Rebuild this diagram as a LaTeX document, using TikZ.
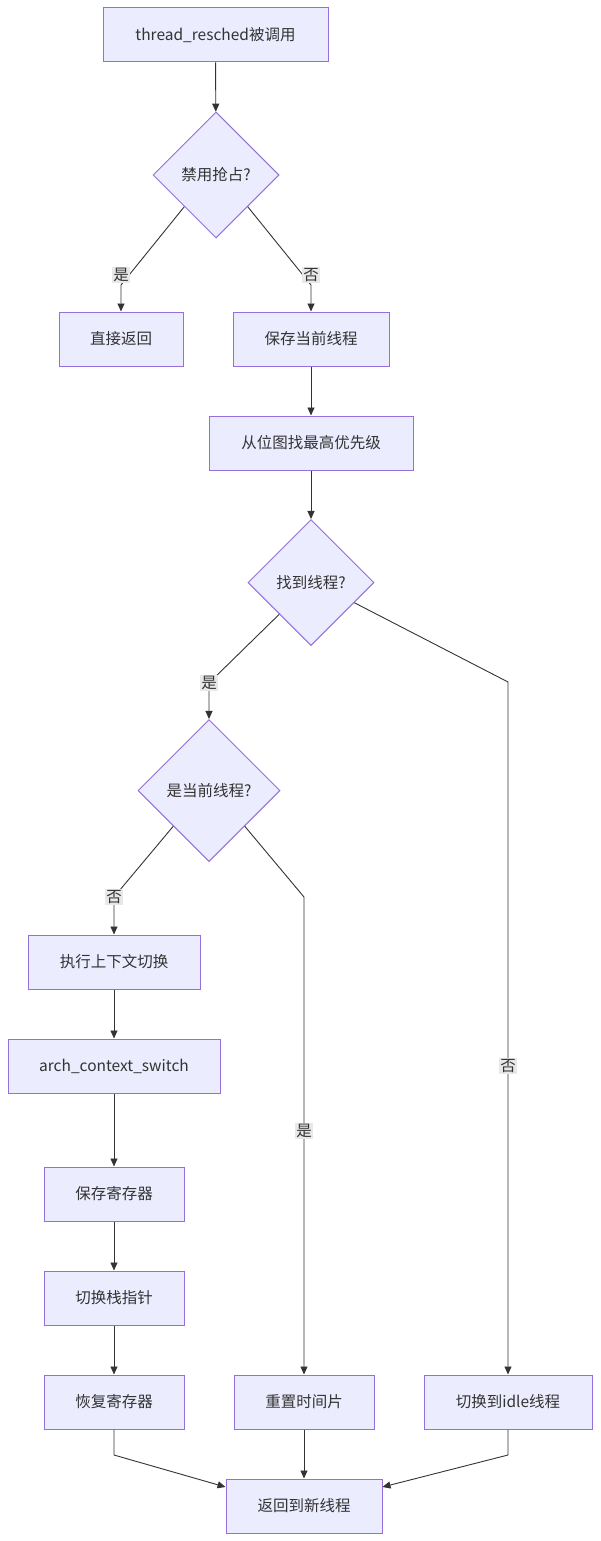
\documentclass[tikz,border=0pt]{standalone}
\usepackage{fontspec}
\setmainfont{Noto Sans CJK SC}
\usetikzlibrary{shapes.geometric,arrows.meta}
\definecolor{nfill}{HTML}{ECECFF}
\definecolor{nline}{HTML}{9370DB}
\definecolor{ink}{HTML}{333333}
\definecolor{lbl}{HTML}{E8E8E8}
\tikzset{
  procbox/.style={draw=nline,fill=nfill,line width=1pt,minimum height=54pt,inner sep=0pt,text=ink,font=\fontsize{15.5}{18}\selectfont},
  decision/.style={draw=nline,fill=nfill,line width=1pt,shape=diamond,aspect=1,inner sep=0pt,text=ink,font=\fontsize{15.5}{18}\selectfont},
  flow/.style={draw=ink,line width=0.9pt,-{Triangle[length=8pt,width=7pt]}},
  elabel/.style={fill=lbl,text=ink,inner sep=1.5pt,font=\fontsize{15.5}{18}\selectfont}
}
\begin{document}
\begin{tikzpicture}[x=1pt,y=-1pt]
\useasboundingbox (0,0) rectangle (600,1541);
\node[procbox,minimum width=225pt] (A) at (215.5,35) {thread\_resched被调用};
\node[decision,minimum width=126pt,minimum height=126pt] (B) at (216,175) {禁用抢占?};
\node[procbox,minimum width=124pt] (C) at (121,339) {直接返回};
\node[procbox,minimum width=156pt] (D) at (311,339) {保存当前线程};
\node[procbox,minimum width=204pt] (E) at (311,443) {从位图找最高优先级};
\node[decision,minimum width=126pt,minimum height=126pt] (F) at (311,582.5) {找到线程?};
\node[decision,minimum width=142pt,minimum height=142pt] (G) at (209,790.5) {是当前线程?};
\node[procbox,minimum width=172pt] (H) at (114,962) {执行上下文切换};
\node[procbox,minimum width=212pt] (I) at (114,1066) {arch\_context\_switch};
\node[procbox,minimum width=140pt] (J) at (114,1194) {保存寄存器};
\node[procbox,minimum width=140pt] (K) at (114,1298) {切换栈指针};
\node[procbox,minimum width=140pt] (L) at (114,1402) {恢复寄存器};
\node[procbox,minimum width=140pt] (M) at (304,1402) {重置时间片};
\node[procbox,minimum width=168pt] (N) at (508,1402) {切换到idle线程};
\node[procbox,minimum width=156pt] (O) at (304,1506) {返回到新线程};

\coordinate (bc) at (121,285);
\coordinate (bd) at (311,285);
\coordinate (fg) at (209,683);
\coordinate (fn) at (508,682);
\coordinate (gh) at (114,897);
\coordinate (gm) at (304,897);
\coordinate (lo) at (114,1455);
\coordinate (no) at (508,1455);

\draw[flow] (A) -- (B);
\draw[flow] (B.south west) -- (bc) -- (C);
\draw[flow] (B.south east) -- (bd) -- (D);
\draw[flow] (D) -- (E);
\draw[flow] (E) -- (F);
\draw[flow] (F.south west) -- (fg) -- (G);
\draw[flow] (F.-25) -- (fn) -- (N);
\draw[flow] (G.south west) -- (gh) -- (H);
\draw[flow] (G.south east) -- (gm) -- (M);
\draw[flow] (H) -- (I);
\draw[flow] (I) -- (J);
\draw[flow] (J) -- (K);
\draw[flow] (K) -- (L);
\draw[flow] (L) -- (lo) -- (O.north west |- 0,1487);
\draw[flow] (M) -- (O);
\draw[flow] (N) -- (no) -- (O.north east |- 0,1487);

\node[elabel] (l1) at (121,275) {是};
\node[elabel] (l2) at (311,275) {否};
\node[elabel] (l3) at (209,683) {是};
\node[elabel] (l4) at (508,1066) {否};
\node[elabel] (l5) at (114,897) {否};
\node[elabel] (l6) at (304,1131) {是};
\end{tikzpicture}
\end{document}
